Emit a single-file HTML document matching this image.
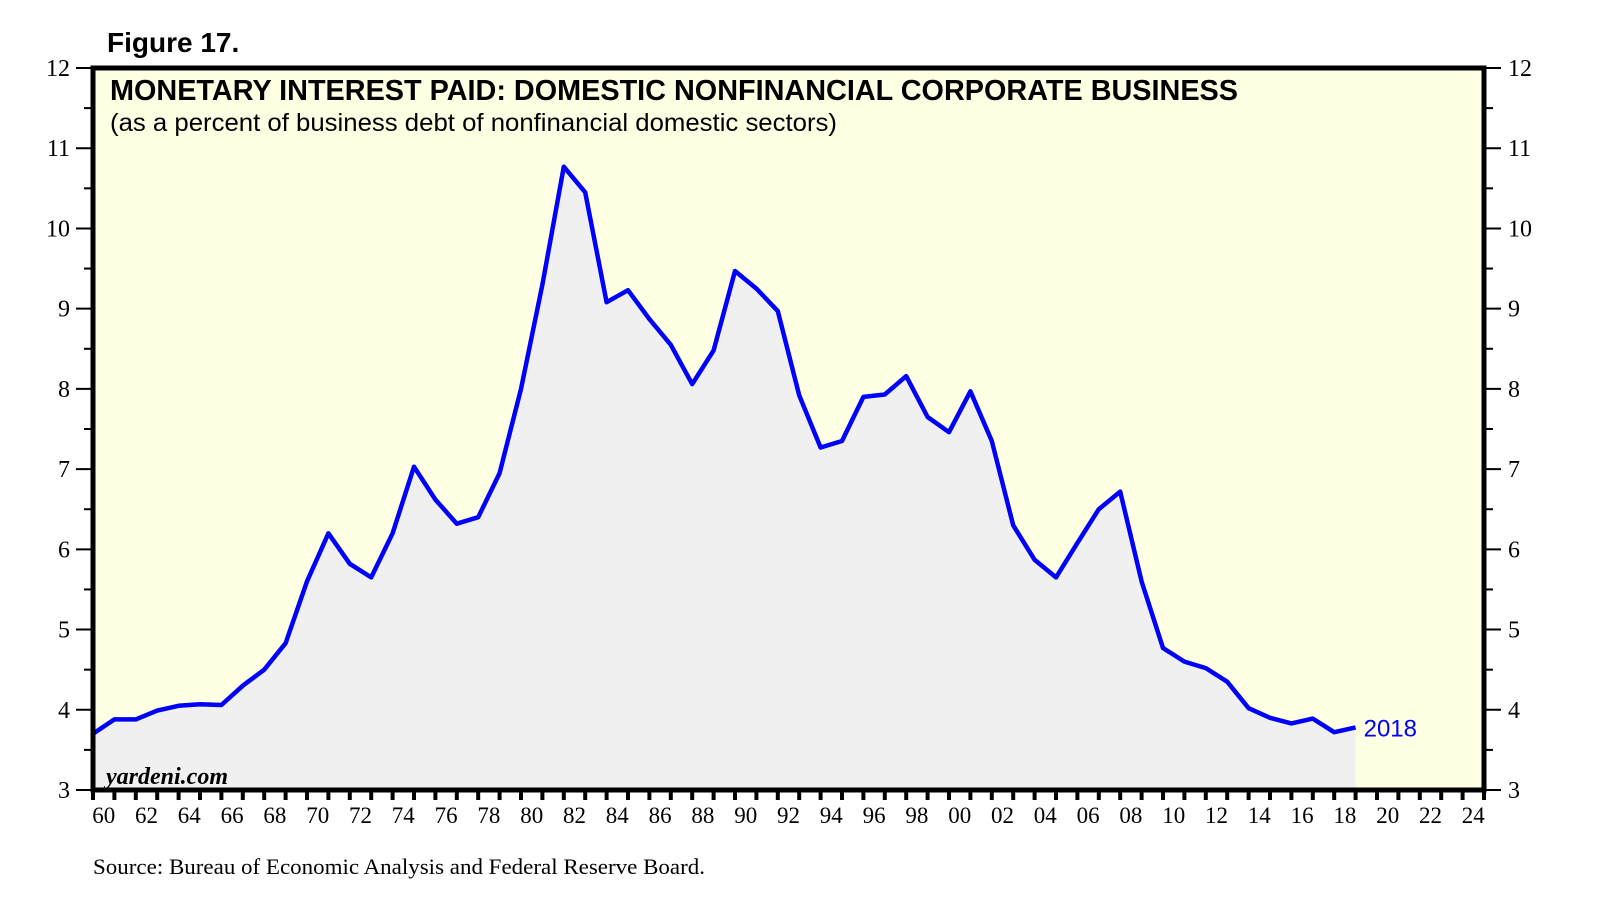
<!DOCTYPE html>
<html><head><meta charset="utf-8"><style>
html,body{margin:0;padding:0;background:#fff;}
svg{display:block;}
</style></head><body>
<svg id="chart" width="1610" height="918" viewBox="0 0 1610 918" xmlns="http://www.w3.org/2000/svg">
<text x="107" y="52" font-family="Liberation Sans, sans-serif" font-weight="bold" font-size="28" fill="#000">Figure 17.</text>
<rect x="93" y="68" width="1391" height="722" fill="#ffffe3"/>
<g id="marks"></g>
<text x="110" y="100" font-family="Liberation Sans, sans-serif" font-weight="bold" font-size="29" textLength="1128" lengthAdjust="spacingAndGlyphs" fill="#000">MONETARY INTEREST PAID: DOMESTIC NONFINANCIAL CORPORATE BUSINESS</text>
<text x="110" y="131" font-family="Liberation Sans, sans-serif" font-size="25" textLength="727" lengthAdjust="spacingAndGlyphs" fill="#000">(as a percent of business debt of nonfinancial domestic sectors)</text>
<text x="106" y="784" font-family="Liberation Serif, serif" font-weight="bold" font-style="italic" font-size="24" fill="#000">yardeni.com</text>
<rect x="93" y="68" width="1391" height="722" fill="none" stroke="#000" stroke-width="5"/>
<g id="axes"></g>
<text x="93" y="874" font-family="Liberation Serif, serif" font-size="22" textLength="612" lengthAdjust="spacingAndGlyphs" fill="#000">Source: Bureau of Economic Analysis and Federal Reserve Board.</text>
</svg>
<script>
const years = [1959,1960,1961,1962,1963,1964,1965,1966,1967,1968,1969,1970,1971,1972,1973,1974,1975,1976,1977,1978,1979,1980,1981,1982,1983,1984,1985,1986,1987,1988,1989,1990,1991,1992,1993,1994,1995,1996,1997,1998,1999,2000,2001,2002,2003,2004,2005,2006,2007,2008,2009,2010,2011,2012,2013,2014,2015,2016,2017,2018];
const values = [3.7,3.88,3.88,3.99,4.05,4.07,4.06,4.3,4.5,4.83,5.6,6.2,5.82,5.65,6.2,7.03,6.62,6.32,6.4,6.95,8.0,9.3,10.77,10.45,9.08,9.23,8.87,8.55,8.06,8.48,9.47,9.25,8.97,7.92,7.27,7.35,7.9,7.93,8.16,7.65,7.46,7.97,7.35,6.3,5.87,5.65,6.08,6.5,6.72,5.6,4.77,4.6,4.52,4.35,4.02,3.9,3.83,3.89,3.72,3.78];
const yTicks = [3,4,5,6,7,8,9,10,11,12];
const xTickLabels = ["60","62","64","66","68","70","72","74","76","78","80","82","84","86","88","90","92","94","96","98","00","02","04","06","08","10","12","14","16","18","20","22","24"];
const lastLabel = "2018";

const L=93,R=1484,T=68,B=790,X0=1960,X1=2025,Y0=3,Y1=12;
const xs = y => L + (y - X0) / (X1 - X0) * (R - L);
const ys = v => B - (v - Y0) / (Y1 - Y0) * (B - T);
const NS="http://www.w3.org/2000/svg";
function mk(tag, attrs, parent){const e=document.createElementNS(NS,tag);for(const k in attrs)e.setAttribute(k,attrs[k]);parent.appendChild(e);return e;}
const marks=document.getElementById('marks'), axes=document.getElementById('axes');

const pts = years.map((yr,i)=>[xs(yr+1), ys(values[i])]);
let d = pts.map((p,i)=>(i?'L':'M')+p[0].toFixed(1)+','+p[1].toFixed(1)).join(' ');
const area = mk('path',{d: d+` L${pts[pts.length-1][0].toFixed(1)},${B} L${pts[0][0].toFixed(1)},${B} Z`, fill:'#f0f0f0'}, marks);


const line = mk('path',{d:d, fill:'none', stroke:'#0000ff','stroke-width':4.5,'stroke-linejoin':'round'}, marks);


const lp = pts[pts.length-1];
const lt = mk('text',{x:lp[0]+8,y:lp[1]+9,'font-family':'Liberation Sans, sans-serif','font-size':24,fill:'#0000ff'}, marks);
lt.textContent = lastLabel;



yTicks.forEach(v=>{
  const y=ys(v);
  const t1=mk('line',{x1:76,x2:93,y1:y,y2:y,stroke:'#000','stroke-width':2},axes);
  
  
  const t2=mk('line',{x1:1484,x2:1501,y1:y,y2:y,stroke:'#000','stroke-width':2},axes);
  
  
  const a=mk('text',{x:70,y:y+8,'text-anchor':'end','font-family':'Liberation Serif, serif','font-size':24,fill:'#000'},axes);
  a.textContent=v;
  
  
  const b=mk('text',{x:1508,y:y+8,'font-family':'Liberation Serif, serif','font-size':24,fill:'#000'},axes);
  b.textContent=v;
  
  
  if(v<Y1){
    const ym=ys(v+0.5);
    const m1=mk('line',{x1:84,x2:93,y1:ym,y2:ym,stroke:'#000','stroke-width':2},axes);
    
    
    const m2=mk('line',{x1:1484,x2:1493,y1:ym,y2:ym,stroke:'#000','stroke-width':2},axes);
    
    
  }
});
for(let yr=X0; yr<=X1; yr++){
  const x=xs(yr);
  const t=mk('line',{x1:x,x2:x,y1:B,y2:B+10,stroke:'#000','stroke-width':4},axes);
  
  
}
xTickLabels.forEach((s,i)=>{
  const yr = X0 + i*2;
  const t=mk('text',{x:xs(yr+0.5),y:823,'text-anchor':'middle','font-family':'Liberation Serif, serif','font-size':23,fill:'#000'},axes);
  t.textContent=s;
  
  
});
</script>
</body></html>
